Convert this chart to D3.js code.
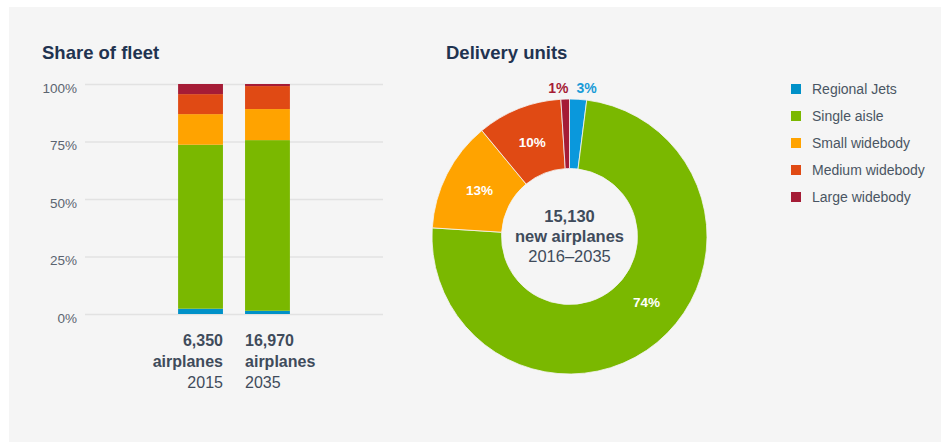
<!DOCTYPE html>
<html>
<head>
<meta charset="utf-8">
<script src="https://cdn.jsdelivr.net/npm/d3@7"></script>
<style>
  body { margin: 0; background: #ffffff; font-family: "Liberation Sans", Arial, sans-serif; }
  svg text { font-family: "Liberation Sans", Arial, sans-serif; }
</style>
</head>
<body>
<div id="chart"></div>
<script>
// categories + colours
const categories = ["Regional Jets", "Single aisle", "Small widebody", "Medium widebody", "Large widebody"];
const colors = ["#0091c8", "#7ab800", "#ffa300", "#e04a14", "#a51c36"];

// share of fleet (%), bottom to top, per year
const fleetYears = ["2015", "2035"];
const fleetTotals = ["6,350", "16,970"];
const fleet2015 = [2.3, 71.3, 13.3, 8.7, 4.4];
const fleet2035 = [1.4, 74.2, 13.5, 10.0, 0.9];
const yTicks = [0, 25, 50, 75, 100];

// delivery units (%)
const deliveryShare = [2, 74, 13, 10, 1];
const deliveryLabels = ["3%", "74%", "13%", "10%", "1%"];
const deliveryTotal = "15,130";

const W = 946, H = 442;
const ink = "#1f3350";
const textCol = "#3f4b5b";

const svg = d3.select("#chart").append("svg")
  .attr("width", W).attr("height", H);

svg.append("rect")
  .attr("x", 9).attr("y", 7).attr("width", 932).attr("height", 435)
  .attr("fill", "#f5f5f5");

// ******************************
// Share of fleet – stacked bars
// ******************************
svg.append("text").attr("x", 42).attr("y", 59)
  .attr("font-size", 18.5).attr("font-weight", "bold").attr("fill", ink)
  .text("Share of fleet");

const y = d3.scaleLinear().domain([0, 100]).range([314, 84]);
const x = d3.scaleBand().domain(fleetYears).range([156, 312]).paddingInner(0.33).paddingOuter(0.33);

const yAxis = svg.append("g").attr("transform", "translate(85,0)")
  .call(d3.axisLeft(y).tickValues(yTicks).tickSize(-298).tickFormat(d => d + "%"));
yAxis.select(".domain").remove();
yAxis.selectAll(".tick line").attr("stroke", "#e2e2e2").attr("stroke-width", 1.5);
yAxis.selectAll(".tick text").attr("x", -8).attr("dy", "0.6em")
  .attr("font-size", 13.5).attr("fill", "#5b6470");

const fleetRows = fleetYears.map((yr, i) => {
  const vals = i === 0 ? fleet2015 : fleet2035;
  const row = { year: yr };
  categories.forEach((c, j) => row[c] = vals[j]);
  return row;
});
const stack = d3.stack().keys(categories)(fleetRows);

svg.append("g").selectAll("g")
  .data(stack)
  .join("g")
  .attr("fill", (d, i) => colors[i])
  .selectAll("rect")
  .data(d => d)
  .join("rect")
  .attr("x", d => x(d.data.year))
  .attr("width", x.bandwidth())
  .attr("y", d => y(d[1]))
  .attr("height", d => y(d[0]) - y(d[1]));

fleetYears.forEach((yr, i) => {
  const left = i === 0;
  const tx = left ? x(yr) + x.bandwidth() : x(yr);
  const t = svg.append("text")
    .attr("text-anchor", left ? "end" : "start")
    .attr("font-size", 16).attr("fill", textCol);
  t.append("tspan").attr("x", tx).attr("y", 346).attr("font-weight", "bold").text(fleetTotals[i]);
  t.append("tspan").attr("x", tx).attr("y", 367).attr("font-weight", "bold").text("airplanes");
  t.append("tspan").attr("x", tx).attr("y", 388).text(yr);
});

// ******************************
// Delivery units – donut
// ******************************
svg.append("text").attr("x", 446).attr("y", 59)
  .attr("font-size", 18.5).attr("font-weight", "bold").attr("fill", ink)
  .text("Delivery units");

const cx = 569.5, cy = 236.5, rOut = 137.5, rIn = 68;
const pie = d3.pie().sort(null).value(d => d)(deliveryShare);
const arc = d3.arc().innerRadius(rIn).outerRadius(rOut);
const donutColors = ["#0a98dc", "#7ab800", "#ffa300", "#e04a14", "#a51c36"];

const donut = svg.append("g").attr("transform", `translate(${cx},${cy})`);
donut.selectAll("path")
  .data(pie)
  .join("path")
  .attr("d", arc)
  .attr("fill", (d, i) => donutColors[i])
  .attr("stroke", "#f5f5f5").attr("stroke-width", 0.8);

// label angle nudge (degrees) so the big slice label sits where the original puts it
const labelShift = [0, -10, 0, 0, 0];
donut.selectAll("text.in")
  .data(pie.filter(d => d.data >= 5))
  .join("text")
  .attr("class", "in")
  .attr("transform", d => {
    const a = (d.startAngle + d.endAngle) / 2 + labelShift[d.index] * Math.PI / 180;
    const r = 101;
    return `translate(${r * Math.sin(a)},${-r * Math.cos(a)})`;
  })
  .attr("text-anchor", "middle").attr("dy", "0.35em")
  .attr("font-size", 13.5).attr("font-weight", "bold").attr("fill", "#ffffff")
  .text(d => deliveryLabels[d.index]);

// small slices labelled outside, above the ring
const small = pie.filter(d => d.data < 5);
small.forEach(d => {
  const isRight = d.index === 0;
  svg.append("text")
    .attr("x", isRight ? cx + 7 : cx - 1)
    .attr("y", cy - rOut - 6)
    .attr("text-anchor", isRight ? "start" : "end")
    .attr("font-size", 14).attr("font-weight", "bold")
    .attr("fill", isRight ? "#1a9bd7" : "#a51c36")
    .text(deliveryLabels[d.index]);
});

const ct = svg.append("text").attr("text-anchor", "middle")
  .attr("font-size", 16.5).attr("fill", textCol);
ct.append("tspan").attr("x", cx).attr("y", 222).attr("font-weight", "bold").text(deliveryTotal);
ct.append("tspan").attr("x", cx).attr("y", 242).attr("font-weight", "bold").text("new airplanes");
ct.append("tspan").attr("x", cx).attr("y", 262).text("2016\u20132035");

// ******************************
// Legend
// ******************************
const legend = svg.append("g").selectAll("g")
  .data(categories)
  .join("g")
  .attr("transform", (d, i) => `translate(791,${89 + i * 27})`);
legend.append("rect").attr("x", 0).attr("y", -5).attr("width", 10).attr("height", 10)
  .attr("fill", (d, i) => colors[i]);
legend.append("text").attr("x", 21).attr("dy", "0.35em")
  .attr("font-size", 14).attr("fill", "#4a5563")
  .text(d => d);
</script>
</body>
</html>
